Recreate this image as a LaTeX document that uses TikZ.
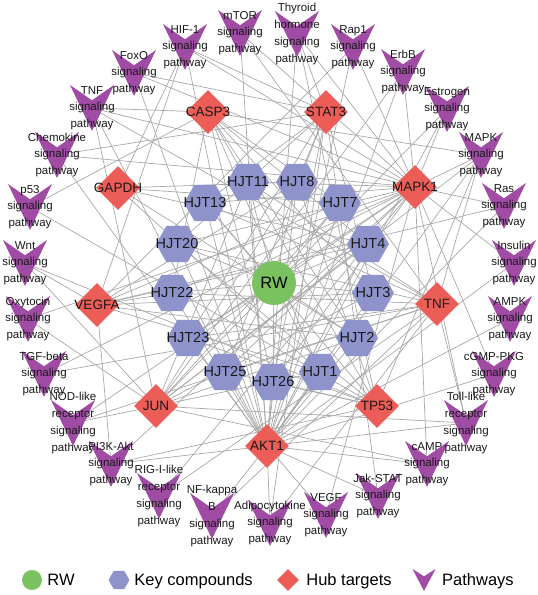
\documentclass[tikz,border=0pt]{standalone}
\usepackage{fontspec}
\setmainfont{Liberation Sans}
\usepackage{xcolor}
\usetikzlibrary{shapes,positioning,calc}

\definecolor{rwgreen}{RGB}{122,193,95}
\definecolor{hexblue}{RGB}{143,147,204}
\definecolor{hubred}{RGB}{236,93,87}
\definecolor{veepurple}{RGB}{160,76,165}
\definecolor{edgegray}{RGB}{168,168,168}

\pgfdeclarelayer{background}
\pgfsetlayers{background,main}

\begin{document}
\begin{tikzpicture}[x=1pt,y=-1pt,
    edge/.style={draw=edgegray, line width=0.7pt},
    herb/.style={circle, fill=rwgreen, minimum size=44pt, inner sep=0pt, font=\fontsize{16.5}{18}\selectfont},
    compound/.style={regular polygon, regular polygon sides=6, fill=hexblue, minimum size=42pt, inner sep=0pt,
        label={[font=\fontsize{14.5}{16}\selectfont, text=black!90, inner sep=0pt]center:#1}},
    hub/.style={diamond, fill=hubred, minimum width=44pt, minimum height=44pt, inner sep=0pt,
        label={[font=\fontsize{13.5}{15}\selectfont, text=black!90, inner sep=0pt]center:#1}},
    pway/.style={align=center, inner sep=0pt, text=black!90, font=\fontsize{11.5}{16.7}\selectfont},
    vee/.style={fill=veepurple},
    legtext/.style={inner sep=0pt, text height=11.8pt, text depth=0pt, font=\fontsize{16.5}{18}\selectfont}
]
    \useasboundingbox (0,0) rectangle (538,595);

    % herb
    \node [herb] (rw) at (274,283) {RW};

    % key compounds
    \foreach \nm/\x/\y in {11/248/182, 8/297/182, 13/205/203, 7/340/203, 20/177/244, 4/368/244,
        22/172/293, 3/373/293, 23/188/338, 2/357/338, 25/225/372, 1/320/372, 26/273/382} {
        \node [compound=HJT\nm] (hjt\nm) at (\x,\y) {};
    }

    % hub targets
    \foreach \nm/\x/\y/\lab in {casp3/208/112/CASP3, stat3/326/112/STAT3, gapdh/118/188/GAPDH,
        mapk1/415/187/MAPK1, vegfa/97/305/VEGFA, tnf/437/304/TNF, jun/156/406/JUN,
        tp53/377/406/TP53, akt1/267/446/AKT1} {
        \node [hub=\lab] (\nm) at (\x,\y) {};
    }

    % pathways
    \foreach \nm/\x/\y/\txt in {
        mtor/240/33/{mTOR\\signaling\\pathway},
        hif/185/47/{HIF-1\\signaling\\pathway},
        foxo/134/73/{FoxO\\signaling\\pathway},
        tnfp/92/108/{TNF\\signaling\\pathway},
        chemo/57/155/{Chemokine\\signaling\\pathway},
        pfiftythree/30/207/{p53\\signaling\\pathway},
        wnt/25/263/{Wnt\\signaling\\pathway},
        oxy/28/319/{Oxytocin\\signaling\\pathway},
        tgf/44/374/{TGF-beta\\signaling\\pathway},
        nod/73/423/{NOD-like\\receptor\\signaling\\pathway},
        pik/111/464/{PI3K-Akt\\signaling\\pathway},
        rig/159/496/{RIG-I-like\\receptor\\signaling\\pathway},
        nfkb/212/516/{NF-kappa\\B\\signaling\\pathway},
        adipo/270/523/{Adipocytokine\\signaling\\pathway},
        vegf/326/515/{VEGF\\signaling\\pathway},
        jak/378/496/{Jak-STAT\\signaling\\pathway},
        camp/427/464/{cAMP\\signaling\\pathway},
        toll/466/423/{Toll-like\\receptor\\signaling\\pathway},
        cgmp/494/374/{cGMP-PKG\\signaling\\pathway},
        ampk/510/319/{AMPK\\signaling\\pathway},
        insulin/514/263/{Insulin\\signaling\\pathway},
        ras/504/206/{Ras\\signaling\\pathway},
        mapkp/481/155/{MAPK\\signaling\\pathway},
        estrogen/447/109/{Estrogen\\signaling\\pathway},
        erbb/403/72/{ErbB\\signaling\\pathway},
        rap/353/47/{Rap1\\signaling\\pathway},
        thyroid/297/34/{Thyroid\\hormone\\signaling\\pathway}} {
        \fill [vee] (\x,\y) ++(-22,-23) -- ++(22,15.3) -- ++(22,-15.3) -- ++(-22,46) -- cycle;
        \node [pway] (\nm) at (\x,\y) {\txt};
    }

    % edges
    \begin{pgfonlayer}{background}
    \foreach \h in {11,8,13,7,20,4,22,3,23,2,25,1,26}
        \draw [edge] (rw.center) -- (hjt\h.center);
    \foreach \a/\b in {hjt11/akt1, hjt11/mapk1, hjt11/tnf, hjt11/tp53, hjt11/casp3, hjt11/jun,
        hjt8/akt1, hjt8/tp53, hjt8/vegfa, hjt8/jun, hjt8/stat3, hjt8/gapdh,
        hjt13/mapk1, hjt13/akt1, hjt13/tnf, hjt13/tp53, hjt13/stat3,
        hjt7/akt1, hjt7/jun, hjt7/vegfa, hjt7/gapdh, hjt7/casp3,
        hjt20/mapk1, hjt20/akt1, hjt20/tnf, hjt20/tp53, hjt20/stat3,
        hjt4/akt1, hjt4/jun, hjt4/vegfa, hjt4/gapdh, hjt4/casp3,
        hjt22/mapk1, hjt22/tnf, hjt22/akt1, hjt22/casp3, hjt22/vegfa,
        hjt3/vegfa, hjt3/jun, hjt3/akt1, hjt3/casp3, hjt3/stat3,
        hjt23/mapk1, hjt23/tnf, hjt23/stat3, hjt23/tp53, hjt23/akt1,
        hjt2/gapdh, hjt2/vegfa, hjt2/akt1, hjt2/casp3, hjt2/jun,
        hjt25/mapk1, hjt25/stat3, hjt25/tnf, hjt25/akt1, hjt25/tp53,
        hjt1/vegfa, hjt1/gapdh, hjt1/casp3, hjt1/jun, hjt1/akt1,
        hjt26/mapk1, hjt26/stat3, hjt26/casp3, hjt26/akt1, hjt26/tp53}
        \draw [edge] (\a.center) -- (\b.center);
    \foreach \a/\b in {mtor/akt1, mtor/mapk1, mtor/tnf,
        hif/akt1, hif/mapk1, hif/stat3, hif/vegfa, hif/gapdh,
        foxo/akt1, foxo/mapk1, foxo/stat3,
        tnfp/akt1, tnfp/mapk1, tnfp/casp3, tnfp/jun, tnfp/tnf,
        chemo/akt1, chemo/mapk1, chemo/stat3,
        pfiftythree/casp3, pfiftythree/tp53,
        wnt/jun, wnt/tp53, wnt/vegfa,
        oxy/jun, oxy/mapk1,
        tgf/mapk1, tgf/tnf,
        nod/jun, nod/mapk1, nod/tnf,
        pik/akt1, pik/mapk1, pik/tp53, pik/vegfa,
        rig/tnf, rig/mapk1,
        nfkb/tnf, nfkb/akt1,
        adipo/akt1, adipo/stat3, adipo/tnf,
        vegf/akt1, vegf/mapk1,
        jak/akt1, jak/stat3,
        camp/akt1, camp/jun, camp/mapk1,
        toll/akt1, toll/jun, toll/mapk1, toll/tnf,
        cgmp/akt1, cgmp/mapk1,
        ampk/akt1,
        insulin/akt1, insulin/mapk1,
        ras/akt1, ras/mapk1, ras/vegfa,
        mapkp/akt1, mapkp/mapk1, mapkp/casp3, mapkp/jun, mapkp/tnf, mapkp/tp53,
        estrogen/akt1, estrogen/jun, estrogen/mapk1,
        erbb/akt1, erbb/jun, erbb/mapk1,
        rap/akt1, rap/mapk1, rap/vegfa,
        thyroid/akt1, thyroid/mapk1, thyroid/tp53, thyroid/stat3}
        \draw [edge] (\a.center) -- (\b.center);
    \end{pgfonlayer}

    % legend
    \node [circle, fill=rwgreen, minimum size=20pt, inner sep=0pt] (keyrw) at (32,580) {};
    \node [legtext, right=5pt of keyrw] (keyrwtxt) {RW};
    \node [regular polygon, regular polygon sides=6, fill=hexblue, minimum size=21pt, inner sep=0pt] (keyhjt) at (119,580) {};
    \node [legtext, right=4.5pt of keyhjt] (keyhjttxt) {Key compounds};
    \node [diamond, fill=hubred, minimum width=22pt, minimum height=22pt, inner sep=0pt] (keyhub) at (288,580) {};
    \node [legtext, right=7pt of keyhub] (keyhubtxt) {Hub targets};
    \fill [vee] (424,580) ++(-11.5,-11) -- ++(11.5,7.3) -- ++(11.5,-7.3) -- ++(-11.5,22) -- cycle;
    \coordinate (keypw) at (435.5,580);
    \node [legtext, anchor=west] (keypwtxt) at ([xshift=6.5pt]keypw) {Pathways};
\end{tikzpicture}
\end{document}
